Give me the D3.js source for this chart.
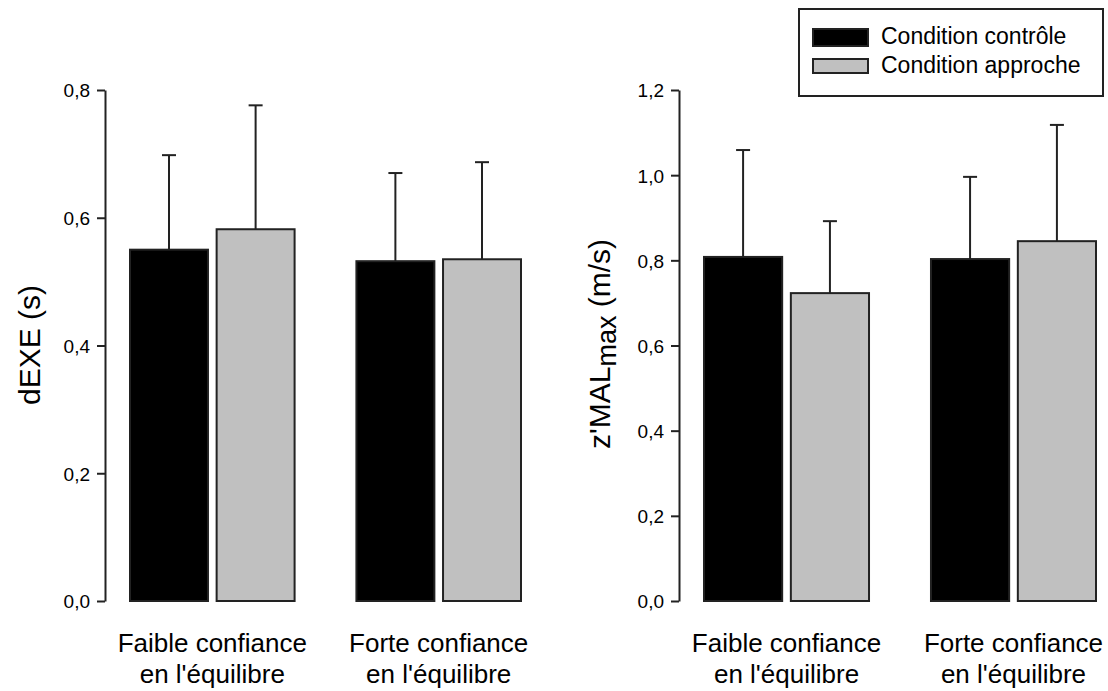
<!DOCTYPE html>
<html>
<head>
<meta charset="utf-8">
<script src="https://cdn.jsdelivr.net/npm/d3@7"></script>
<style>
  body { margin: 0; background: #fff; }
  svg text { font-family: "Liberation Sans", Arial, sans-serif; fill: #000; }
</style>
</head>
<body>
<svg id="chart" width="1108" height="691"></svg>
<script>
// categories and series
var groups = ["Faible confiance\nen l'équilibre", "Forte confiance\nen l'équilibre"]
var series = ["Condition contrôle", "Condition approche"]
var colors = ["#000000", "#c0c0c0"]

// left panel: dEXE (s)
var dexeMean = [[0.55, 0.582], [0.532, 0.535]]
var dexeErr = [[0.148, 0.194], [0.138, 0.152]]
var dexeTicks = [0, 0.2, 0.4, 0.6, 0.8]

// right panel: z'MALmax (m/s)
var zmalMean = [[0.808, 0.723], [0.803, 0.845]]
var zmalErr = [[0.251, 0.169], [0.193, 0.273]]
var zmalTicks = [0, 0.2, 0.4, 0.6, 0.8, 1.0, 1.2]

var svg = d3.select("#chart")
var fmt = d3.format(".1f")
var comma = d => fmt(d).replace(".", ",")

var TOP = 90, BOTTOM = 601

function panel(axisX, barRange, yMax, ticks, means, errs) {
	var y = d3.scaleLinear().domain([0, yMax]).range([BOTTOM, TOP])
	var x0 = d3.scaleBand().domain(groups).range(barRange).paddingInner(0.273).paddingOuter(0)
	var x1 = d3.scaleBand().domain(series).range([0, x0.bandwidth()]).paddingInner(0.1)

	svg.append("g")
		.attr("transform", "translate(" + axisX + ",0)")
		.call(d3.axisLeft(y).tickValues(ticks).tickFormat(comma).tickSize(8).tickSizeOuter(0).tickPadding(7))
		.call(g => g.selectAll("text").attr("font-size", "19px").attr("dy", "0.36em")
			.attr("font-family", "Liberation Sans, Arial, sans-serif"))
		.call(g => g.selectAll("line, path").attr("stroke", "#222").attr("stroke-width", 2))

	groups.forEach(function(gName, gi) {
		var gg = svg.append("g").attr("transform", "translate(" + x0(gName) + ",0)")
		series.forEach(function(s, si) {
			var v = means[gi][si], e = errs[gi][si]
			var cx = x1(s) + x1.bandwidth() / 2
			gg.append("line")
				.attr("x1", cx).attr("x2", cx)
				.attr("y1", y(v)).attr("y2", y(v + e))
				.attr("stroke", "#222").attr("stroke-width", 2)
			gg.append("line")
				.attr("x1", cx - 7).attr("x2", cx + 7)
				.attr("y1", y(v + e)).attr("y2", y(v + e))
				.attr("stroke", "#222").attr("stroke-width", 2)
			gg.append("rect")
				.attr("x", x1(s)).attr("width", x1.bandwidth())
				.attr("y", y(v)).attr("height", y(0) - y(v))
				.attr("fill", colors[si])
				.attr("stroke", "#222").attr("stroke-width", 2)
		})
		var lines = gName.split("\n")
		var t = svg.append("text")
			.attr("text-anchor", "middle")
			.attr("font-size", "26px")
		lines.forEach(function(l, li) {
			t.append("tspan")
				.attr("x", x0(gName) + x0.bandwidth() / 2)
				.attr("y", 652 + li * 31)
				.text(l)
		})
	})
}

panel(105, [130, 521], 0.8, dexeTicks, dexeMean, dexeErr)
panel(679, [704, 1096], 1.2, zmalTicks, zmalMean, zmalErr)

// axis titles
svg.append("text")
	.attr("transform", "translate(40,345) rotate(-90)")
	.attr("text-anchor", "middle")
	.attr("font-size", "30px")
	.text("dEXE (s)")

var zt = svg.append("text")
	.attr("transform", "translate(610,344) rotate(-90)")
	.attr("text-anchor", "middle")
	.attr("font-size", "30px")
zt.append("tspan").text("z'MAL")
zt.append("tspan").attr("dy", 6).attr("font-size", "27px").text("max")
zt.append("tspan").attr("dy", -6).text(" (m/s)")

// legend
var lg = svg.append("g")
lg.append("rect")
	.attr("x", 799).attr("y", 9).attr("width", 304).attr("height", 87)
	.attr("fill", "#fff").attr("stroke", "#222").attr("stroke-width", 2)
series.forEach(function(s, i) {
	lg.append("rect")
		.attr("x", 813).attr("y", 29 + i * 30).attr("width", 55).attr("height", i === 0 ? 17 : 14)
		.attr("fill", colors[i]).attr("stroke", "#222").attr("stroke-width", 2)
	lg.append("text")
		.attr("x", 881).attr("y", 44 + i * 29)
		.attr("font-size", "23px")
		.text(s)
})
</script>
</body>
</html>
